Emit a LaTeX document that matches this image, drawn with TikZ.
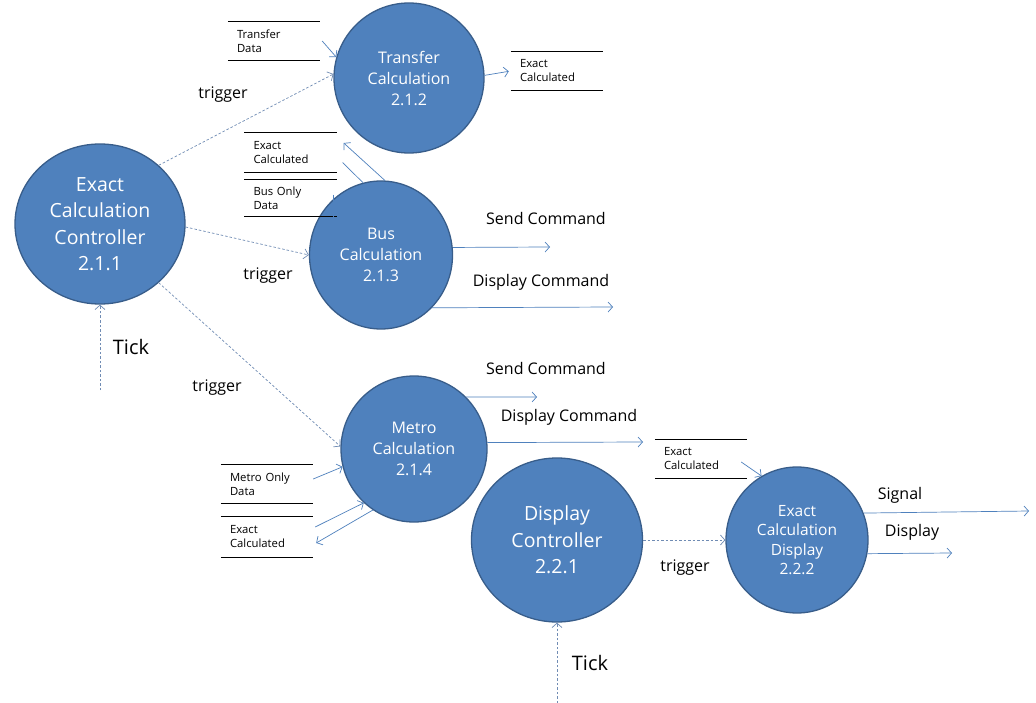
\documentclass[tikz,border=0pt]{standalone}
\usepackage{fontspec}
\setmainfont{Open Sans}
\usetikzlibrary{arrows.meta,shapes.geometric}
\definecolor{procfill}{RGB}{79,129,189}
\definecolor{procborder}{RGB}{56,93,138}
\definecolor{flowcol}{RGB}{79,129,189}
\definecolor{trigcol}{RGB}{112,140,180}
\begin{document}
\begin{tikzpicture}[x=1pt,y=-1pt,
  proc/.style={ellipse, draw=procborder, line width=1.3pt, fill=procfill, text=white, inner sep=0pt, align=center},
  big/.style={font=\fontsize{19.5}{26.5}\selectfont},
  mid/.style={font=\fontsize{16}{21}\selectfont},
  small/.style={font=\fontsize{15.5}{19.5}\selectfont},
  flow/.style={draw=flowcol, line width=0.7pt, -{Straight Barb[length=4.5pt,width=10pt]}},
  flowline/.style={draw=flowcol, line width=0.7pt},
  trig/.style={flow, draw=trigcol, dash pattern=on 2.5pt off 2pt},
  storebox/.style={minimum width=92pt, minimum height=39pt, inner sep=0pt, text width=74pt, align=left, font=\fontsize{11.3}{14}\selectfont},
  storeline/.style={draw=black, line width=0.8pt},
  lbl/.style={font=\fontsize{16}{19}\selectfont, inner sep=0pt},
  ticklbl/.style={font=\fontsize{20}{24}\selectfont, inner sep=0pt},
]
\useasboundingbox (0,0) rectangle (1036,703);
\fill[white] (0,0) rectangle (1036,703);

% processes
\node[proc, big, minimum width=170pt, minimum height=160pt] (ctrl) at (100,224) {Exact\\Calculation\\Controller\\2.1.1};
\node[proc, mid, minimum width=150pt, minimum height=150pt] (trans) at (409,78) {Transfer\\Calculation\\2.1.2};
\node[proc, mid, minimum width=143pt, minimum height=148pt] (bus) at (381,255) {Bus\\Calculation\\2.1.3};
\node[proc, mid, minimum width=146pt, minimum height=146pt] (metro) at (414,449) {Metro\\Calculation\\2.1.4};
\node[proc, big, minimum width=171pt, minimum height=164pt] (dctrl) at (557,540) {Display\\Controller\\2.2.1};
\node[proc, small, minimum width=142pt, minimum height=146pt] (ecd) at (797,540) {Exact\\Calculation\\Display\\2.2.2};

% data stores
\node[storebox] (sTD) at (274,41) {Transfer\\Data};
\node[storebox] (sEC1) at (557,71) {Exact\\Calculated};
\node[storebox] (sEC2) at (290.5,152.5) {Exact\\Calculated};
\node[storebox, minimum height=37pt] (sBOD) at (290.5,198) {Bus Only\\Data};
\node[storebox, minimum height=38pt] (sMOD) at (267,484) {Metro Only\\Data};
\node[storebox, minimum height=40pt] (sEC3) at (267,537) {Exact\\Calculated};
\node[storebox, minimum height=38pt] (sEC4) at (701,459) {Exact\\Calculated};
\foreach \s in {sTD,sEC1,sEC2,sBOD,sMOD,sEC3,sEC4}
  \draw[storeline] (\s.north west) -- (\s.north east) (\s.south west) -- (\s.south east);

% free ends
\coordinate (tick1) at (100,390);
\coordinate (tick2) at (557,703);
\coordinate (bsend) at (550,247);
\coordinate (bdisp) at (613,307);
\coordinate (msend) at (537,397);
\coordinate (mdisp) at (643,442);
\coordinate (sig) at (1029,511);
\coordinate (disp) at (952,553);

% triggers
\draw[trig] (ctrl.45) -- (trans.177);
\draw[trig] (ctrl.-2) -- (bus.180);
\draw[trig] (ctrl.-45) -- (metro.178);
\draw[trig] (tick1) -- (ctrl.south);
\draw[trig] (dctrl.east) -- (ecd.west);
\draw[trig] (tick2) -- (dctrl.south);

% data flows
\draw[flow] ([xshift=2pt]sTD.east) -- (trans.164);
\draw[flow, shorten >=2pt] (trans.2) -- (sEC1.west);
\draw[flow] (bus.87) -- ([xshift=7pt,yshift=9.5pt]sEC2.east);
\draw[flowline] ([xshift=6pt,yshift=-10pt]sEC2.east) -- (bus.104);
\draw[flowline] ([xshift=-3pt,yshift=22pt]sBOD.south east) -- ([xshift=-3pt]sBOD.south east);
\draw[flow] (bus.6) -- (bsend);
\draw[flow] (bus.-46) -- (bdisp);
\draw[flow] ([yshift=5pt]sMOD.east) -- (metro.194);
\draw[flow] ([xshift=2pt,yshift=10pt]sEC3.east) -- (metro.227);
\draw[flow] (metro.236) -- ([xshift=3pt,yshift=-6pt]sEC3.east);
\draw[flow] (metro.45) -- (msend);
\draw[flow] (metro.5) -- (mdisp);
\draw[flow] ([xshift=-6pt,yshift=-3pt]sEC4.east) -- (ecd.119);
\draw[flow] (ecd.22) -- (sig);
\draw[flow] (ecd.-11) -- (disp);

% labels
\node[lbl] (lt1) at (223,95) {trigger};
\node[lbl] (lt2) at (268,276) {trigger};
\node[lbl] (lt3) at (217,388) {trigger};
\node[lbl] (lt4) at (685,568) {trigger};
\node[ticklbl] (ltick1) at (131,347) {Tick};
\node[ticklbl] (ltick2) at (590,663) {Tick};
\node[lbl] (lbs) at (546,219) {Send Command};
\node[lbl] (lbd) at (541,282) {Display Command};
\node[lbl] (lms) at (546,368) {Send Command};
\node[lbl] (lmd) at (569,417) {Display Command};
\node[lbl] (lsig) at (900,495) {Signal};
\node[lbl] (ldisp) at (912,532) {Display};
\end{tikzpicture}
\end{document}
